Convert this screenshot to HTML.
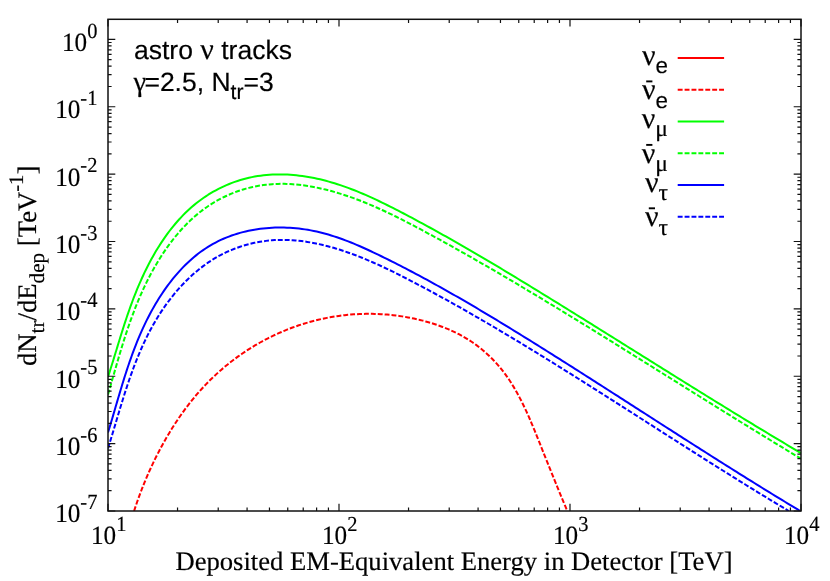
<!DOCTYPE html>
<html><head><meta charset="utf-8"><title>chart</title><style>html,body{margin:0;padding:0;background:#fff}body{width:830px;height:581px;overflow:hidden;position:relative}svg{position:absolute;left:0;top:0;will-change:transform}text{text-rendering:geometricPrecision;stroke:#000;stroke-width:0.18px}</style></head><body>
<svg width="830" height="581" viewBox="0 0 830 581" style="display:block">
<rect x="0" y="0" width="830" height="581" fill="#fff"/>
<clipPath id="c"><rect x="108.0" y="19.3" width="693.0" height="491.7"/></clipPath>
<g clip-path="url(#c)" fill="none" stroke-width="2" stroke-linejoin="round">
<path d="M134.08,511.00 L135.02,508.16 L135.97,505.32 L136.94,502.49 L137.94,499.67 L138.95,496.86 L139.98,494.05 L141.04,491.26 L142.11,488.47 L143.21,485.69 L144.33,482.92 L145.46,480.16 L146.62,477.41 L147.80,474.67 L149.01,471.94 L150.23,469.22 L151.48,466.50 L152.74,463.80 L154.03,461.11 L155.35,458.42 L156.68,455.75 L158.04,453.09 L159.42,450.43 L160.82,447.79 L162.25,445.16 L163.70,442.53 L165.17,439.92 L166.67,437.32 L168.19,434.73 L169.74,432.16 L171.31,429.59 L172.90,427.04 L174.52,424.51 L176.16,421.99 L177.83,419.48 L179.53,416.99 L181.24,414.52 L182.99,412.07 L184.76,409.64 L186.55,407.23 L188.37,404.83 L190.22,402.46 L192.09,400.11 L193.99,397.78 L195.92,395.48 L197.87,393.20 L199.85,390.95 L201.86,388.72 L203.89,386.52 L205.95,384.34 L208.04,382.19 L210.16,380.07 L212.30,377.98 L214.47,375.92 L216.66,373.89 L218.88,371.88 L221.12,369.91 L223.39,367.96 L225.68,366.05 L228.00,364.16 L230.34,362.31 L232.70,360.48 L235.09,358.69 L237.49,356.93 L239.92,355.19 L242.37,353.49 L244.85,351.83 L247.34,350.19 L249.85,348.59 L252.39,347.02 L254.94,345.48 L257.51,343.97 L260.10,342.50 L262.71,341.06 L265.34,339.66 L267.99,338.29 L270.65,336.95 L273.33,335.65 L276.03,334.39 L278.75,333.16 L281.48,331.96 L284.22,330.80 L286.98,329.68 L289.76,328.59 L292.55,327.54 L295.35,326.53 L298.17,325.55 L301.00,324.61 L303.84,323.70 L306.70,322.84 L309.57,322.01 L312.45,321.22 L315.34,320.47 L318.24,319.76 L321.16,319.09 L324.08,318.46 L327.02,317.86 L329.96,317.31 L332.91,316.79 L335.87,316.32 L338.84,315.89 L341.82,315.49 L344.81,315.14 L347.80,314.83 L350.80,314.56 L353.81,314.34 L356.82,314.15 L359.84,314.01 L362.86,313.90 L365.88,313.84 L368.91,313.83 L371.93,313.85 L374.96,313.91 L377.99,314.02 L381.01,314.17 L384.04,314.36 L387.06,314.59 L390.07,314.87 L393.08,315.18 L396.09,315.54 L399.08,315.94 L402.07,316.38 L405.06,316.87 L408.03,317.39 L410.99,317.96 L413.94,318.57 L416.88,319.22 L419.81,319.91 L422.72,320.64 L425.62,321.42 L428.50,322.24 L431.37,323.10 L434.22,324.00 L437.05,324.95 L439.86,325.94 L442.65,326.98 L445.41,328.06 L448.16,329.19 L450.88,330.37 L453.57,331.61 L456.23,332.89 L458.87,334.23 L461.48,335.62 L464.06,337.07 L466.60,338.57 L469.12,340.13 L471.59,341.75 L474.04,343.43 L476.44,345.16 L478.81,346.95 L481.14,348.80 L483.42,350.69 L485.67,352.64 L487.87,354.64 L490.03,356.69 L492.14,358.79 L494.21,360.93 L496.23,363.11 L498.20,365.34 L500.12,367.62 L501.98,369.93 L503.80,372.28 L505.57,374.67 L507.30,377.10 L508.98,379.56 L510.62,382.05 L512.21,384.58 L513.77,387.13 L515.29,389.72 L516.77,392.32 L518.22,394.96 L519.63,397.61 L521.02,400.29 L522.37,402.99 L523.70,405.70 L525.00,408.44 L526.28,411.18 L527.53,413.94 L528.77,416.71 L529.98,419.50 L531.18,422.29 L532.36,425.08 L533.53,427.88 L534.68,430.69 L535.82,433.50 L536.96,436.30 L538.08,439.11 L539.20,441.91 L540.32,444.71 L541.43,447.50 L542.54,450.29 L543.65,453.07 L544.76,455.85 L545.87,458.62 L546.98,461.38 L548.08,464.14 L549.19,466.90 L550.30,469.66 L551.41,472.41 L552.52,475.16 L553.64,477.91 L554.75,480.66 L555.87,483.41 L556.99,486.16 L558.11,488.91 L559.24,491.66 L560.37,494.42 L561.51,497.17 L562.65,499.93 L563.79,502.69 L564.94,505.46 L566.10,508.23 L567.26,511.00" stroke="#ff0000" stroke-dasharray="4.9 2"/>
<path d="M108.00,376.90 L108.90,374.13 L109.78,371.35 L110.66,368.57 L111.54,365.78 L112.41,362.98 L113.27,360.18 L114.13,357.37 L115.00,354.56 L115.86,351.74 L116.72,348.92 L117.58,346.10 L118.45,343.27 L119.32,340.44 L120.19,337.60 L121.07,334.77 L121.96,331.93 L122.86,329.09 L123.77,326.26 L124.69,323.42 L125.62,320.58 L126.57,317.74 L127.53,314.90 L128.51,312.06 L129.50,309.22 L130.51,306.39 L131.54,303.56 L132.60,300.73 L133.67,297.90 L134.77,295.08 L135.89,292.26 L137.03,289.44 L138.20,286.63 L139.40,283.82 L140.63,281.03 L141.88,278.24 L143.16,275.46 L144.47,272.69 L145.80,269.94 L147.17,267.19 L148.56,264.47 L149.98,261.76 L151.44,259.07 L152.92,256.40 L154.44,253.74 L155.98,251.11 L157.56,248.51 L159.17,245.92 L160.81,243.37 L162.48,240.84 L164.19,238.34 L165.92,235.87 L167.70,233.43 L169.50,231.02 L171.34,228.64 L173.22,226.31 L175.13,224.00 L177.08,221.74 L179.06,219.51 L181.08,217.33 L183.13,215.18 L185.22,213.08 L187.35,211.03 L189.52,209.01 L191.72,207.05 L193.97,205.13 L196.25,203.27 L198.57,201.45 L200.93,199.69 L203.33,197.98 L205.77,196.32 L208.24,194.72 L210.75,193.18 L213.30,191.69 L215.88,190.26 L218.49,188.88 L221.13,187.56 L223.80,186.31 L226.50,185.11 L229.22,183.97 L231.97,182.90 L234.75,181.88 L237.55,180.93 L240.37,180.04 L243.21,179.22 L246.07,178.46 L248.95,177.77 L251.84,177.14 L254.75,176.58 L257.67,176.08 L260.61,175.66 L263.56,175.29 L266.52,175.00 L269.49,174.76 L272.46,174.59 L275.44,174.48 L278.43,174.43 L281.42,174.43 L284.42,174.50 L287.41,174.62 L290.41,174.79 L293.40,175.02 L296.40,175.31 L299.38,175.64 L302.37,176.03 L305.34,176.46 L308.31,176.95 L311.28,177.48 L314.23,178.05 L317.17,178.68 L320.09,179.34 L323.01,180.05 L325.92,180.80 L328.81,181.59 L331.70,182.42 L334.57,183.29 L337.44,184.19 L340.29,185.13 L343.14,186.10 L345.97,187.10 L348.80,188.14 L351.62,189.21 L354.42,190.30 L357.22,191.42 L360.01,192.57 L362.79,193.74 L365.57,194.94 L368.33,196.16 L371.09,197.40 L373.84,198.67 L376.58,199.95 L379.32,201.24 L382.05,202.56 L384.77,203.89 L387.49,205.23 L390.20,206.59 L392.90,207.96 L395.60,209.33 L398.29,210.72 L400.97,212.11 L403.65,213.51 L406.33,214.92 L409.00,216.33 L411.66,217.74 L414.32,219.16 L416.98,220.58 L419.63,222.01 L422.28,223.44 L424.92,224.87 L427.55,226.31 L430.19,227.75 L432.82,229.20 L435.44,230.65 L438.06,232.10 L440.68,233.56 L443.29,235.02 L445.90,236.49 L448.51,237.95 L451.11,239.43 L453.71,240.90 L456.31,242.38 L458.90,243.86 L461.49,245.35 L464.08,246.83 L466.66,248.33 L469.24,249.82 L471.82,251.32 L474.40,252.82 L476.97,254.32 L479.54,255.83 L482.11,257.34 L484.68,258.85 L487.24,260.37 L489.80,261.88 L492.36,263.40 L494.92,264.93 L497.48,266.45 L500.04,267.98 L502.59,269.51 L505.14,271.04 L507.70,272.58 L510.25,274.12 L512.80,275.66 L515.34,277.20 L517.89,278.74 L520.44,280.29 L522.98,281.84 L525.53,283.39 L528.07,284.94 L530.62,286.49 L533.16,288.05 L535.71,289.61 L538.25,291.17 L540.79,292.73 L543.34,294.29 L545.88,295.85 L548.43,297.42 L550.97,298.99 L553.51,300.55 L556.06,302.12 L558.60,303.69 L561.15,305.27 L563.69,306.84 L566.23,308.42 L568.78,309.99 L571.32,311.57 L573.87,313.15 L576.41,314.73 L578.96,316.31 L581.50,317.89 L584.05,319.47 L586.59,321.05 L589.14,322.64 L591.68,324.22 L594.23,325.81 L596.78,327.40 L599.32,328.98 L601.87,330.57 L604.41,332.16 L606.96,333.75 L609.51,335.34 L612.05,336.93 L614.60,338.52 L617.14,340.11 L619.69,341.70 L622.24,343.29 L624.79,344.89 L627.33,346.48 L629.88,348.07 L632.43,349.66 L634.97,351.26 L637.52,352.85 L640.07,354.44 L642.62,356.04 L645.17,357.63 L647.71,359.22 L650.26,360.81 L652.81,362.41 L655.36,364.00 L657.91,365.59 L660.46,367.18 L663.01,368.78 L665.56,370.37 L668.11,371.96 L670.66,373.55 L673.21,375.14 L675.76,376.73 L678.31,378.32 L680.86,379.90 L683.41,381.49 L685.96,383.08 L688.51,384.67 L691.06,386.25 L693.61,387.84 L696.17,389.42 L698.72,391.00 L701.27,392.58 L703.82,394.17 L706.38,395.75 L708.93,397.32 L711.48,398.90 L714.04,400.48 L716.59,402.05 L719.14,403.63 L721.70,405.20 L724.25,406.77 L726.81,408.34 L729.36,409.91 L731.92,411.48 L734.47,413.05 L737.03,414.61 L739.58,416.18 L742.14,417.74 L744.69,419.30 L747.25,420.86 L749.81,422.41 L752.36,423.97 L754.92,425.52 L757.48,427.07 L760.04,428.62 L762.59,430.17 L765.15,431.71 L767.71,433.26 L770.27,434.80 L772.83,436.34 L775.39,437.88 L777.95,439.41 L780.51,440.94 L783.07,442.48 L785.63,444.00 L788.19,445.53 L790.75,447.05 L793.31,448.58 L795.88,450.09 L798.44,451.61 L801.00,453.13" stroke="#00ff00"/>
<path d="M108.00,394.50 L108.83,391.64 L109.66,388.77 L110.48,385.91 L111.30,383.05 L112.12,380.19 L112.94,377.33 L113.76,374.47 L114.58,371.62 L115.40,368.76 L116.22,365.91 L117.05,363.06 L117.88,360.22 L118.72,357.37 L119.56,354.53 L120.41,351.69 L121.27,348.85 L122.14,346.02 L123.02,343.19 L123.91,340.36 L124.81,337.54 L125.72,334.72 L126.65,331.90 L127.59,329.09 L128.55,326.28 L129.53,323.47 L130.52,320.67 L131.53,317.87 L132.56,315.08 L133.61,312.29 L134.68,309.50 L135.77,306.72 L136.89,303.95 L138.03,301.18 L139.19,298.41 L140.38,295.65 L141.60,292.90 L142.85,290.14 L144.12,287.40 L145.42,284.66 L146.75,281.93 L148.11,279.21 L149.50,276.50 L150.92,273.81 L152.37,271.13 L153.85,268.46 L155.37,265.81 L156.91,263.18 L158.48,260.56 L160.09,257.97 L161.72,255.40 L163.39,252.86 L165.09,250.34 L166.82,247.85 L168.59,245.38 L170.39,242.94 L172.22,240.54 L174.08,238.17 L175.98,235.83 L177.92,233.53 L179.89,231.26 L181.89,229.03 L183.92,226.84 L186.00,224.70 L188.10,222.59 L190.25,220.53 L192.43,218.51 L194.64,216.54 L196.89,214.62 L199.18,212.75 L201.51,210.92 L203.87,209.15 L206.27,207.44 L208.71,205.78 L211.18,204.17 L213.69,202.62 L216.23,201.13 L218.80,199.69 L221.41,198.31 L224.04,197.00 L226.70,195.74 L229.39,194.54 L232.11,193.40 L234.85,192.32 L237.61,191.30 L240.39,190.35 L243.20,189.46 L246.02,188.63 L248.87,187.87 L251.73,187.17 L254.60,186.54 L257.50,185.97 L260.40,185.47 L263.32,185.04 L266.24,184.68 L269.18,184.38 L272.13,184.15 L275.08,183.99 L278.04,183.89 L281.01,183.85 L283.98,183.87 L286.95,183.94 L289.93,184.08 L292.91,184.27 L295.89,184.52 L298.87,184.81 L301.84,185.16 L304.82,185.56 L307.79,186.00 L310.76,186.49 L313.72,187.03 L316.67,187.60 L319.62,188.22 L322.56,188.88 L325.49,189.58 L328.41,190.31 L331.32,191.08 L334.22,191.89 L337.10,192.73 L339.98,193.60 L342.85,194.51 L345.72,195.44 L348.57,196.41 L351.41,197.40 L354.24,198.43 L357.07,199.48 L359.88,200.55 L362.69,201.66 L365.49,202.78 L368.28,203.93 L371.06,205.11 L373.84,206.30 L376.61,207.52 L379.36,208.75 L382.12,210.01 L384.86,211.28 L387.60,212.56 L390.33,213.87 L393.05,215.19 L395.77,216.52 L398.48,217.87 L401.18,219.23 L403.87,220.59 L406.56,221.97 L409.25,223.36 L411.93,224.76 L414.60,226.16 L417.26,227.57 L419.93,228.99 L422.58,230.41 L425.23,231.83 L427.87,233.26 L430.51,234.68 L433.15,236.11 L435.78,237.55 L438.40,238.98 L441.03,240.42 L443.64,241.86 L446.25,243.30 L448.86,244.75 L451.47,246.19 L454.07,247.64 L456.66,249.10 L459.26,250.55 L461.85,252.01 L464.43,253.47 L467.02,254.93 L469.60,256.40 L472.18,257.86 L474.75,259.33 L477.32,260.80 L479.90,262.28 L482.46,263.76 L485.03,265.24 L487.59,266.72 L490.16,268.20 L492.72,269.69 L495.28,271.18 L497.83,272.67 L500.39,274.17 L502.95,275.67 L505.50,277.17 L508.05,278.67 L510.61,280.17 L513.16,281.68 L515.71,283.19 L518.26,284.71 L520.81,286.22 L523.36,287.74 L525.92,289.26 L528.47,290.79 L531.02,292.32 L533.57,293.84 L536.12,295.38 L538.67,296.91 L541.22,298.45 L543.77,299.98 L546.32,301.52 L548.87,303.07 L551.42,304.61 L553.97,306.16 L556.53,307.71 L559.08,309.26 L561.63,310.81 L564.18,312.37 L566.73,313.92 L569.28,315.48 L571.83,317.04 L574.38,318.61 L576.93,320.17 L579.48,321.73 L582.03,323.30 L584.58,324.87 L587.13,326.44 L589.68,328.01 L592.22,329.58 L594.77,331.16 L597.32,332.73 L599.87,334.31 L602.42,335.89 L604.97,337.46 L607.52,339.04 L610.07,340.63 L612.62,342.21 L615.17,343.79 L617.72,345.37 L620.26,346.96 L622.81,348.54 L625.36,350.13 L627.91,351.72 L630.46,353.30 L633.01,354.89 L635.56,356.48 L638.10,358.07 L640.65,359.66 L643.20,361.25 L645.75,362.84 L648.30,364.43 L650.84,366.02 L653.39,367.61 L655.94,369.20 L658.49,370.80 L661.03,372.39 L663.58,373.98 L666.13,375.57 L668.67,377.16 L671.22,378.75 L673.77,380.35 L676.32,381.94 L678.86,383.53 L681.41,385.12 L683.96,386.71 L686.50,388.30 L689.05,389.89 L691.60,391.48 L694.14,393.07 L696.69,394.65 L699.23,396.24 L701.78,397.83 L704.33,399.41 L706.87,401.00 L709.42,402.58 L711.96,404.17 L714.51,405.75 L717.05,407.33 L719.60,408.91 L722.14,410.49 L724.69,412.07 L727.24,413.65 L729.78,415.22 L732.33,416.80 L734.87,418.37 L737.41,419.95 L739.96,421.52 L742.50,423.09 L745.05,424.65 L747.59,426.22 L750.14,427.79 L752.68,429.35 L755.22,430.91 L757.77,432.47 L760.31,434.03 L762.86,435.59 L765.40,437.14 L767.94,438.69 L770.49,440.24 L773.03,441.79 L775.57,443.34 L778.12,444.88 L780.66,446.43 L783.20,447.97 L785.75,449.51 L788.29,451.04 L790.83,452.58 L793.37,454.11 L795.92,455.64 L798.46,457.16 L801.00,458.69" stroke="#00ff00" stroke-dasharray="4.9 2"/>
<path d="M108.00,432.56 L108.86,429.74 L109.71,426.92 L110.56,424.10 L111.40,421.27 L112.24,418.44 L113.07,415.61 L113.90,412.77 L114.73,409.93 L115.56,407.09 L116.39,404.25 L117.23,401.40 L118.06,398.56 L118.90,395.71 L119.75,392.86 L120.60,390.02 L121.46,387.17 L122.32,384.32 L123.20,381.48 L124.08,378.64 L124.98,375.80 L125.89,372.96 L126.81,370.12 L127.75,367.29 L128.70,364.46 L129.67,361.63 L130.66,358.81 L131.67,355.99 L132.69,353.18 L133.74,350.37 L134.80,347.57 L135.89,344.77 L137.01,341.98 L138.15,339.20 L139.31,336.42 L140.50,333.65 L141.72,330.89 L142.97,328.13 L144.25,325.39 L145.56,322.65 L146.90,319.93 L148.27,317.21 L149.68,314.50 L151.12,311.81 L152.60,309.13 L154.11,306.46 L155.65,303.82 L157.23,301.19 L158.84,298.58 L160.48,296.00 L162.16,293.44 L163.88,290.91 L165.63,288.40 L167.41,285.93 L169.23,283.49 L171.08,281.08 L172.97,278.70 L174.89,276.36 L176.85,274.06 L178.84,271.81 L180.87,269.59 L182.93,267.41 L185.03,265.29 L187.17,263.21 L189.34,261.17 L191.55,259.19 L193.79,257.26 L196.07,255.39 L198.38,253.57 L200.73,251.81 L203.12,250.11 L205.54,248.47 L208.00,246.89 L210.50,245.37 L213.03,243.92 L215.60,242.54 L218.20,241.22 L220.83,239.96 L223.49,238.76 L226.18,237.63 L228.90,236.56 L231.64,235.55 L234.41,234.60 L237.20,233.72 L240.01,232.89 L242.85,232.13 L245.70,231.42 L248.58,230.78 L251.47,230.19 L254.37,229.66 L257.29,229.20 L260.23,228.79 L263.17,228.43 L266.13,228.14 L269.09,227.90 L272.07,227.72 L275.05,227.60 L278.03,227.53 L281.02,227.52 L284.01,227.56 L287.00,227.66 L289.99,227.81 L292.99,228.02 L295.97,228.28 L298.96,228.60 L301.94,228.96 L304.91,229.38 L307.87,229.86 L310.83,230.38 L313.77,230.96 L316.71,231.59 L319.63,232.27 L322.54,232.99 L325.43,233.77 L328.32,234.58 L331.20,235.45 L334.06,236.35 L336.91,237.29 L339.76,238.27 L342.59,239.28 L345.41,240.33 L348.23,241.41 L351.03,242.52 L353.83,243.66 L356.61,244.83 L359.39,246.02 L362.16,247.23 L364.93,248.47 L367.68,249.72 L370.43,251.00 L373.17,252.29 L375.90,253.59 L378.63,254.90 L381.35,256.23 L384.06,257.56 L386.77,258.91 L389.47,260.25 L392.17,261.61 L394.86,262.97 L397.55,264.34 L400.23,265.71 L402.90,267.09 L405.57,268.47 L408.24,269.86 L410.90,271.25 L413.55,272.65 L416.20,274.06 L418.85,275.47 L421.49,276.89 L424.13,278.31 L426.76,279.74 L429.39,281.17 L432.01,282.61 L434.63,284.05 L437.25,285.50 L439.86,286.95 L442.47,288.40 L445.07,289.87 L447.67,291.33 L450.27,292.80 L452.86,294.28 L455.45,295.75 L458.04,297.24 L460.62,298.72 L463.20,300.22 L465.78,301.71 L468.35,303.21 L470.92,304.71 L473.49,306.22 L476.06,307.73 L478.62,309.25 L481.18,310.77 L483.74,312.29 L486.29,313.81 L488.85,315.34 L491.40,316.87 L493.95,318.41 L496.50,319.95 L499.04,321.49 L501.59,323.03 L504.13,324.58 L506.67,326.13 L509.21,327.68 L511.75,329.24 L514.28,330.80 L516.82,332.36 L519.35,333.92 L521.89,335.49 L524.42,337.06 L526.95,338.63 L529.48,340.20 L532.01,341.77 L534.54,343.35 L537.07,344.93 L539.60,346.51 L542.13,348.09 L544.66,349.68 L547.18,351.26 L549.71,352.85 L552.24,354.44 L554.77,356.03 L557.29,357.63 L559.82,359.22 L562.34,360.82 L564.87,362.41 L567.40,364.01 L569.92,365.61 L572.45,367.21 L574.97,368.82 L577.49,370.42 L580.02,372.03 L582.54,373.63 L585.07,375.24 L587.59,376.85 L590.11,378.46 L592.64,380.07 L595.16,381.68 L597.68,383.29 L600.21,384.90 L602.73,386.52 L605.25,388.13 L607.78,389.75 L610.30,391.36 L612.82,392.98 L615.34,394.60 L617.87,396.21 L620.39,397.83 L622.91,399.45 L625.43,401.07 L627.96,402.69 L630.48,404.31 L633.00,405.93 L635.53,407.55 L638.05,409.17 L640.57,410.79 L643.09,412.41 L645.62,414.03 L648.14,415.65 L650.66,417.26 L653.19,418.88 L655.71,420.50 L658.23,422.12 L660.76,423.74 L663.28,425.36 L665.81,426.98 L668.33,428.60 L670.86,430.21 L673.38,431.83 L675.91,433.45 L678.43,435.06 L680.96,436.68 L683.48,438.29 L686.01,439.90 L688.54,441.52 L691.06,443.13 L693.59,444.74 L696.12,446.35 L698.65,447.96 L701.17,449.57 L703.70,451.17 L706.23,452.78 L708.76,454.38 L711.29,455.99 L713.82,457.59 L716.35,459.19 L718.88,460.79 L721.41,462.39 L723.95,463.98 L726.48,465.58 L729.01,467.17 L731.54,468.77 L734.08,470.36 L736.61,471.95 L739.15,473.53 L741.68,475.12 L744.22,476.70 L746.75,478.28 L749.29,479.86 L751.83,481.44 L754.37,483.02 L756.91,484.59 L759.45,486.17 L761.99,487.74 L764.53,489.30 L767.07,490.87 L769.61,492.43 L772.15,493.99 L774.70,495.55 L777.24,497.11 L779.79,498.66 L782.33,500.21 L784.88,501.76 L787.42,503.31 L789.97,504.85 L792.52,506.39 L795.07,507.93 L797.62,509.47 L800.17,511.00" stroke="#0000ff"/>
<path d="M108.00,448.34 L108.88,445.54 L109.75,442.72 L110.62,439.90 L111.48,437.08 L112.34,434.25 L113.19,431.41 L114.04,428.57 L114.89,425.72 L115.75,422.87 L116.60,420.02 L117.45,417.16 L118.30,414.30 L119.16,411.44 L120.03,408.58 L120.90,405.72 L121.78,402.86 L122.66,399.99 L123.55,397.13 L124.46,394.28 L125.37,391.42 L126.30,388.57 L127.23,385.72 L128.19,382.87 L129.15,380.03 L130.14,377.20 L131.14,374.37 L132.15,371.55 L133.19,368.73 L134.25,365.92 L135.32,363.12 L136.42,360.33 L137.54,357.54 L138.69,354.77 L139.86,352.01 L141.05,349.25 L142.27,346.51 L143.52,343.78 L144.79,341.07 L146.10,338.36 L147.43,335.67 L148.79,333.00 L150.19,330.33 L151.61,327.69 L153.07,325.06 L154.57,322.44 L156.10,319.85 L157.66,317.27 L159.27,314.71 L160.90,312.16 L162.58,309.64 L164.29,307.15 L166.04,304.67 L167.82,302.22 L169.64,299.80 L171.50,297.40 L173.39,295.04 L175.31,292.71 L177.27,290.41 L179.27,288.14 L181.30,285.91 L183.37,283.71 L185.47,281.56 L187.61,279.44 L189.78,277.37 L191.98,275.34 L194.22,273.35 L196.49,271.41 L198.80,269.51 L201.14,267.67 L203.51,265.87 L205.92,264.13 L208.35,262.44 L210.83,260.80 L213.33,259.22 L215.87,257.70 L218.44,256.23 L221.04,254.83 L223.68,253.49 L226.34,252.21 L229.04,250.99 L231.76,249.84 L234.50,248.74 L237.27,247.71 L240.07,246.74 L242.88,245.84 L245.71,244.99 L248.57,244.22 L251.43,243.50 L254.32,242.85 L257.21,242.26 L260.12,241.74 L263.04,241.28 L265.97,240.88 L268.91,240.56 L271.85,240.29 L274.80,240.09 L277.74,239.96 L280.70,239.89 L283.65,239.88 L286.60,239.94 L289.56,240.05 L292.51,240.22 L295.47,240.45 L298.42,240.73 L301.37,241.07 L304.32,241.45 L307.27,241.89 L310.21,242.38 L313.15,242.91 L316.08,243.49 L319.01,244.11 L321.93,244.78 L324.85,245.48 L327.76,246.23 L330.66,247.01 L333.55,247.83 L336.43,248.69 L339.31,249.58 L342.18,250.50 L345.03,251.45 L347.88,252.43 L350.72,253.45 L353.55,254.49 L356.38,255.56 L359.19,256.65 L362.00,257.77 L364.80,258.91 L367.59,260.08 L370.38,261.27 L373.15,262.48 L375.92,263.71 L378.68,264.96 L381.44,266.22 L384.19,267.51 L386.93,268.81 L389.66,270.12 L392.39,271.45 L395.11,272.79 L397.82,274.14 L400.53,275.50 L403.23,276.87 L405.92,278.25 L408.61,279.64 L411.29,281.03 L413.97,282.43 L416.64,283.83 L419.31,285.24 L421.97,286.65 L424.62,288.06 L427.27,289.48 L429.92,290.90 L432.55,292.32 L435.19,293.75 L437.82,295.18 L440.44,296.61 L443.06,298.05 L445.68,299.49 L448.29,300.93 L450.90,302.38 L453.50,303.83 L456.10,305.29 L458.70,306.74 L461.29,308.21 L463.88,309.67 L466.46,311.14 L469.04,312.61 L471.62,314.08 L474.20,315.56 L476.77,317.04 L479.34,318.53 L481.90,320.01 L484.47,321.51 L487.03,323.00 L489.58,324.50 L492.14,326.00 L494.69,327.50 L497.25,329.01 L499.79,330.52 L502.34,332.03 L504.89,333.54 L507.43,335.06 L509.98,336.58 L512.52,338.11 L515.06,339.64 L517.60,341.17 L520.13,342.70 L522.67,344.24 L525.21,345.78 L527.74,347.32 L530.28,348.87 L532.81,350.42 L535.34,351.97 L537.88,353.52 L540.41,355.08 L542.94,356.64 L545.48,358.20 L548.01,359.77 L550.54,361.34 L553.08,362.91 L555.61,364.48 L558.14,366.06 L560.68,367.63 L563.21,369.21 L565.74,370.80 L568.27,372.38 L570.81,373.97 L573.34,375.56 L575.87,377.15 L578.41,378.74 L580.94,380.34 L583.47,381.93 L586.00,383.53 L588.54,385.13 L591.07,386.73 L593.60,388.33 L596.14,389.94 L598.67,391.54 L601.20,393.15 L603.73,394.76 L606.27,396.37 L608.80,397.98 L611.33,399.59 L613.86,401.20 L616.40,402.82 L618.93,404.43 L621.46,406.04 L623.99,407.66 L626.53,409.28 L629.06,410.89 L631.59,412.51 L634.12,414.13 L636.66,415.75 L639.19,417.36 L641.72,418.98 L644.26,420.60 L646.79,422.22 L649.32,423.84 L651.86,425.46 L654.39,427.08 L656.92,428.70 L659.45,430.32 L661.99,431.93 L664.52,433.55 L667.05,435.17 L669.59,436.79 L672.12,438.40 L674.65,440.02 L677.19,441.63 L679.72,443.25 L682.25,444.86 L684.79,446.47 L687.32,448.08 L689.86,449.70 L692.39,451.30 L694.92,452.91 L697.46,454.52 L699.99,456.13 L702.53,457.73 L705.06,459.33 L707.59,460.94 L710.13,462.54 L712.66,464.13 L715.20,465.73 L717.73,467.32 L720.27,468.92 L722.80,470.51 L725.34,472.10 L727.87,473.69 L730.41,475.27 L732.94,476.85 L735.48,478.43 L738.01,480.01 L740.55,481.59 L743.09,483.16 L745.62,484.73 L748.16,486.30 L750.69,487.87 L753.23,489.43 L755.77,490.99 L758.30,492.55 L760.84,494.11 L763.38,495.66 L765.91,497.21 L768.45,498.75 L770.99,500.30 L773.52,501.83 L776.06,503.37 L778.60,504.90 L781.14,506.43 L783.68,507.96 L786.21,509.48 L788.75,511.00" stroke="#0000ff" stroke-dasharray="4.9 2"/>
</g>
<path d="M108.00,511.0 v-7.3 M108.00,19.3 v7.3 M177.54,511.0 v-3.6 M177.54,19.3 v3.6 M218.22,511.0 v-3.6 M218.22,19.3 v3.6 M247.08,511.0 v-3.6 M247.08,19.3 v3.6 M269.46,511.0 v-3.6 M269.46,19.3 v3.6 M287.75,511.0 v-3.6 M287.75,19.3 v3.6 M303.22,511.0 v-3.6 M303.22,19.3 v3.6 M316.61,511.0 v-3.6 M316.61,19.3 v3.6 M328.43,511.0 v-3.6 M328.43,19.3 v3.6 M339.00,511.0 v-7.3 M339.00,19.3 v7.3 M408.54,511.0 v-3.6 M408.54,19.3 v3.6 M449.22,511.0 v-3.6 M449.22,19.3 v3.6 M478.08,511.0 v-3.6 M478.08,19.3 v3.6 M500.46,511.0 v-3.6 M500.46,19.3 v3.6 M518.75,511.0 v-3.6 M518.75,19.3 v3.6 M534.22,511.0 v-3.6 M534.22,19.3 v3.6 M547.61,511.0 v-3.6 M547.61,19.3 v3.6 M559.43,511.0 v-3.6 M559.43,19.3 v3.6 M570.00,511.0 v-7.3 M570.00,19.3 v7.3 M639.54,511.0 v-3.6 M639.54,19.3 v3.6 M680.22,511.0 v-3.6 M680.22,19.3 v3.6 M709.08,511.0 v-3.6 M709.08,19.3 v3.6 M731.46,511.0 v-3.6 M731.46,19.3 v3.6 M749.75,511.0 v-3.6 M749.75,19.3 v3.6 M765.22,511.0 v-3.6 M765.22,19.3 v3.6 M778.61,511.0 v-3.6 M778.61,19.3 v3.6 M790.43,511.0 v-3.6 M790.43,19.3 v3.6 M801.00,511.0 v-7.3 M801.00,19.3 v7.3 M108.0,511.00 h7.3 M801.0,511.00 h-7.3 M108.0,490.72 h3.6 M801.0,490.72 h-3.6 M108.0,478.86 h3.6 M801.0,478.86 h-3.6 M108.0,470.44 h3.6 M801.0,470.44 h-3.6 M108.0,463.91 h3.6 M801.0,463.91 h-3.6 M108.0,458.57 h3.6 M801.0,458.57 h-3.6 M108.0,454.06 h3.6 M801.0,454.06 h-3.6 M108.0,450.16 h3.6 M801.0,450.16 h-3.6 M108.0,446.71 h3.6 M801.0,446.71 h-3.6 M108.0,443.63 h7.3 M801.0,443.63 h-7.3 M108.0,423.35 h3.6 M801.0,423.35 h-3.6 M108.0,411.48 h3.6 M801.0,411.48 h-3.6 M108.0,403.07 h3.6 M801.0,403.07 h-3.6 M108.0,396.54 h3.6 M801.0,396.54 h-3.6 M108.0,391.20 h3.6 M801.0,391.20 h-3.6 M108.0,386.69 h3.6 M801.0,386.69 h-3.6 M108.0,382.79 h3.6 M801.0,382.79 h-3.6 M108.0,379.34 h3.6 M801.0,379.34 h-3.6 M108.0,376.26 h7.3 M801.0,376.26 h-7.3 M108.0,355.98 h3.6 M801.0,355.98 h-3.6 M108.0,344.11 h3.6 M801.0,344.11 h-3.6 M108.0,335.70 h3.6 M801.0,335.70 h-3.6 M108.0,329.17 h3.6 M801.0,329.17 h-3.6 M108.0,323.83 h3.6 M801.0,323.83 h-3.6 M108.0,319.32 h3.6 M801.0,319.32 h-3.6 M108.0,315.41 h3.6 M801.0,315.41 h-3.6 M108.0,311.97 h3.6 M801.0,311.97 h-3.6 M108.0,308.89 h7.3 M801.0,308.89 h-7.3 M108.0,288.60 h3.6 M801.0,288.60 h-3.6 M108.0,276.74 h3.6 M801.0,276.74 h-3.6 M108.0,268.32 h3.6 M801.0,268.32 h-3.6 M108.0,261.80 h3.6 M801.0,261.80 h-3.6 M108.0,256.46 h3.6 M801.0,256.46 h-3.6 M108.0,251.95 h3.6 M801.0,251.95 h-3.6 M108.0,248.04 h3.6 M801.0,248.04 h-3.6 M108.0,244.60 h3.6 M801.0,244.60 h-3.6 M108.0,241.51 h7.3 M801.0,241.51 h-7.3 M108.0,221.23 h3.6 M801.0,221.23 h-3.6 M108.0,209.37 h3.6 M801.0,209.37 h-3.6 M108.0,200.95 h3.6 M801.0,200.95 h-3.6 M108.0,194.42 h3.6 M801.0,194.42 h-3.6 M108.0,189.09 h3.6 M801.0,189.09 h-3.6 M108.0,184.58 h3.6 M801.0,184.58 h-3.6 M108.0,180.67 h3.6 M801.0,180.67 h-3.6 M108.0,177.23 h3.6 M801.0,177.23 h-3.6 M108.0,174.14 h7.3 M801.0,174.14 h-7.3 M108.0,153.86 h3.6 M801.0,153.86 h-3.6 M108.0,142.00 h3.6 M801.0,142.00 h-3.6 M108.0,133.58 h3.6 M801.0,133.58 h-3.6 M108.0,127.05 h3.6 M801.0,127.05 h-3.6 M108.0,121.72 h3.6 M801.0,121.72 h-3.6 M108.0,117.21 h3.6 M801.0,117.21 h-3.6 M108.0,113.30 h3.6 M801.0,113.30 h-3.6 M108.0,109.85 h3.6 M801.0,109.85 h-3.6 M108.0,106.77 h7.3 M801.0,106.77 h-7.3 M108.0,86.49 h3.6 M801.0,86.49 h-3.6 M108.0,74.63 h3.6 M801.0,74.63 h-3.6 M108.0,66.21 h3.6 M801.0,66.21 h-3.6 M108.0,59.68 h3.6 M801.0,59.68 h-3.6 M108.0,54.35 h3.6 M801.0,54.35 h-3.6 M108.0,49.84 h3.6 M801.0,49.84 h-3.6 M108.0,45.93 h3.6 M801.0,45.93 h-3.6 M108.0,42.48 h3.6 M801.0,42.48 h-3.6 M108.0,39.40 h7.3 M801.0,39.40 h-7.3" stroke="#111" stroke-width="1.2" fill="none"/>
<rect x="108.0" y="19.3" width="693.0" height="491.7" fill="none" stroke="#111" stroke-width="1.5"/>
<text id="yt7" transform="translate(97.4,522.40) scale(0.95,1)" text-anchor="end" style="font-family:'Liberation Serif',serif;font-size:26.5px">10<tspan dy="-13.2" style="font-size:21.5px">-7</tspan></text>
<text id="yt6" transform="translate(97.4,455.03) scale(0.95,1)" text-anchor="end" style="font-family:'Liberation Serif',serif;font-size:26.5px">10<tspan dy="-13.2" style="font-size:21.5px">-6</tspan></text>
<text id="yt5" transform="translate(97.4,387.66) scale(0.95,1)" text-anchor="end" style="font-family:'Liberation Serif',serif;font-size:26.5px">10<tspan dy="-13.2" style="font-size:21.5px">-5</tspan></text>
<text id="yt4" transform="translate(97.4,320.29) scale(0.95,1)" text-anchor="end" style="font-family:'Liberation Serif',serif;font-size:26.5px">10<tspan dy="-13.2" style="font-size:21.5px">-4</tspan></text>
<text id="yt3" transform="translate(97.4,252.91) scale(0.95,1)" text-anchor="end" style="font-family:'Liberation Serif',serif;font-size:26.5px">10<tspan dy="-13.2" style="font-size:21.5px">-3</tspan></text>
<text id="yt2" transform="translate(97.4,185.54) scale(0.95,1)" text-anchor="end" style="font-family:'Liberation Serif',serif;font-size:26.5px">10<tspan dy="-13.2" style="font-size:21.5px">-2</tspan></text>
<text id="yt1" transform="translate(97.4,118.17) scale(0.95,1)" text-anchor="end" style="font-family:'Liberation Serif',serif;font-size:26.5px">10<tspan dy="-13.2" style="font-size:21.5px">-1</tspan></text>
<text id="yt0" transform="translate(97.4,50.80) scale(0.95,1)" text-anchor="end" style="font-family:'Liberation Serif',serif;font-size:26.5px">10<tspan dy="-13.2" style="font-size:21.5px">0</tspan></text>
<text id="xt1" transform="translate(108.70,543.6) scale(0.95,1)" text-anchor="middle" style="font-family:'Liberation Serif',serif;font-size:26.5px">10<tspan dy="-13.0" style="font-size:21.5px">1</tspan></text>
<text id="xt2" transform="translate(339.70,543.6) scale(0.95,1)" text-anchor="middle" style="font-family:'Liberation Serif',serif;font-size:26.5px">10<tspan dy="-13.0" style="font-size:21.5px">2</tspan></text>
<text id="xt3" transform="translate(570.70,543.6) scale(0.95,1)" text-anchor="middle" style="font-family:'Liberation Serif',serif;font-size:26.5px">10<tspan dy="-13.0" style="font-size:21.5px">3</tspan></text>
<text id="xt4" transform="translate(801.70,543.6) scale(0.95,1)" text-anchor="middle" style="font-family:'Liberation Serif',serif;font-size:26.5px">10<tspan dy="-13.0" style="font-size:21.5px">4</tspan></text>
<text id="xl" x="454.0" y="569.9" text-anchor="middle" style="font-family:'Liberation Serif',serif;font-size:26.62px">Deposited EM-Equivalent Energy in Detector [TeV]</text>
<text id="yl" transform="translate(35.9,265.9) rotate(-90)" text-anchor="middle" style="font-family:'Liberation Serif',serif;font-size:26.7px">dN<tspan dy="8.5" style="font-size:21.2px">tr</tspan><tspan dy="-8.5">/dE</tspan><tspan dy="8.5" style="font-size:21.2px">dep</tspan><tspan dy="-8.5"> [TeV</tspan><tspan dy="-12.8" style="font-size:20.6px">-1</tspan><tspan dy="12.8">]</tspan></text>
<text id="a1" x="134.0" y="59.4" style="font-family:'Liberation Sans',sans-serif;font-size:26.5px">astro <tspan style="font-family:'Liberation Serif',serif;font-size:30px">ν</tspan> tracks</text>
<text id="a2" x="133.4" y="91.2" style="font-family:'Liberation Sans',sans-serif;font-size:26.5px"><tspan style="font-family:'Liberation Serif',serif;font-size:28.5px">γ</tspan><tspan dx="-1.6">=2.5, N</tspan><tspan dy="8.2" style="font-size:21.2px">tr</tspan><tspan dy="-8.2">=3</tspan></text>
<path d="M677.7,58.0 H724.1" stroke="#ff0000" stroke-width="2" fill="none"/>
<text id="lg0" x="668" y="64.60" text-anchor="end" style="font-family:'Liberation Serif',serif;font-size:30px">ν<tspan dy="8.2" style="font-family:'Liberation Sans',sans-serif;font-size:22.4px">e</tspan></text>
<path d="M677.7,89.8 H724.1" stroke="#ff0000" stroke-width="2" stroke-dasharray="4.9 2" fill="none"/>
<text id="lg1" x="668" y="99.40" text-anchor="end" style="font-family:'Liberation Serif',serif;font-size:30px">ν<tspan dy="8.2" style="font-family:'Liberation Sans',sans-serif;font-size:22.4px">e</tspan></text>
<path id="bar1" d="M646.2,81.40 h6.2" stroke="#000" stroke-width="1.9"/>
<path d="M677.7,121.5 H724.1" stroke="#00ff00" stroke-width="2" fill="none"/>
<text id="lg2" x="668" y="128.10" text-anchor="end" style="font-family:'Liberation Serif',serif;font-size:30px">ν<tspan dy="8.2" style="font-family:'Liberation Serif',serif;font-size:23.6px">μ</tspan></text>
<path d="M677.7,153.3 H724.1" stroke="#00ff00" stroke-width="2" stroke-dasharray="4.9 2" fill="none"/>
<text id="lg3" x="668" y="162.90" text-anchor="end" style="font-family:'Liberation Serif',serif;font-size:30px">ν<tspan dy="8.2" style="font-family:'Liberation Serif',serif;font-size:23.6px">μ</tspan></text>
<path id="bar3" d="M646.2,144.90 h6.2" stroke="#000" stroke-width="1.9"/>
<path d="M677.7,184.9 H724.1" stroke="#0000ff" stroke-width="2" fill="none"/>
<text id="lg4" x="668" y="191.50" text-anchor="end" style="font-family:'Liberation Serif',serif;font-size:30px">ν<tspan dy="8.2" style="font-family:'Liberation Serif',serif;font-size:23.6px">τ</tspan></text>
<path d="M677.7,216.7 H724.1" stroke="#0000ff" stroke-width="2" stroke-dasharray="4.9 2" fill="none"/>
<text id="lg5" x="668" y="226.30" text-anchor="end" style="font-family:'Liberation Serif',serif;font-size:30px">ν<tspan dy="8.2" style="font-family:'Liberation Serif',serif;font-size:23.6px">τ</tspan></text>
<path id="bar5" d="M648.8000000000001,208.30 h6.2" stroke="#000" stroke-width="1.9"/>
</svg>
</body></html>
